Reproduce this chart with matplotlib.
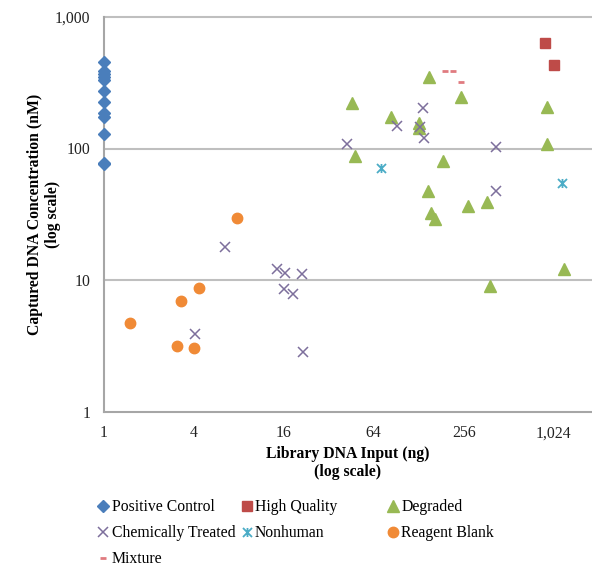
import numpy as np
import matplotlib
matplotlib.use("Agg")
import matplotlib.pyplot as plt
from matplotlib.path import Path
from matplotlib.ticker import FixedLocator, FixedFormatter, NullLocator

plt.rcParams["font.family"] = ["Liberation Serif", "DejaVu Serif"]

# ---- data (x = library input ng, y = captured nM)
pos_x = [1, 1, 1, 1, 1, 1, 1, 1, 1, 1, 1, 1]
pos_y = [455, 388, 369, 350, 332, 274, 226, 186, 174, 129, 78, 76]

hq_x = [902, 1037]
hq_y = [630, 431]

deg_x = [150, 46, 247, 923, 83, 129, 128, 923, 47.6, 185, 147, 154, 165, 274, 366, 385, 1203]
deg_y = [352, 221, 248, 206, 175, 157, 142, 108, 87.7, 80, 47.8, 32.5, 28.9, 36.5, 39, 9.0, 12.1]

chem_x = [136, 92, 130, 139, 42.5, 422, 422, 6.5, 14.3, 4.05, 16.4, 21.2, 16, 18.4, 21.4]
chem_y = [204, 149, 146, 121, 108, 103, 47.5, 17.7, 12.1, 3.89, 11.4, 11.1, 8.5, 7.8, 2.82]

nonh_x = [72, 1175]
nonh_y = [71.5, 55]

blank_x = [7.8, 4.35, 3.3, 1.5, 3.08, 4.0]
blank_y = [29.5, 8.74, 6.92, 4.73, 3.15, 3.04]

mix_x = [193, 217, 245]
mix_y = [391, 391, 322]

x_ticks = [1, 4, 16, 64, 256, 1024]
x_labels = ["1", "4", "16", "64", "256", "1,024"]
y_ticks = [1, 10, 100, 1000]
y_labels = ["1", "10", "100", "1,000"]

# Excel style "star" marker: an x with a vertical bar
star = Path([(-1, -1), (1, 1), (-1, 1), (1, -1), (0, -1), (0, 1)],
            [Path.MOVETO, Path.LINETO] * 3)

FS = 11.3
W, H = 592, 568
fig = plt.figure(figsize=(W / 100, H / 100), dpi=100)
ax = fig.add_axes([104 / W, 1 - 411.5 / H, (W - 104) / W, (411.5 - 17) / H])

ax.set_xscale("log", base=2)
ax.set_yscale("log")
ax.set_xlim(1, 2 ** ((W - 103.5) / 45))
ax.set_ylim(1, 1000)

for yv in [10, 100, 1000]:
    ax.axhline(yv, color="#bfbfbf", lw=1.5, zorder=0, clip_on=False)

kw = dict(ls="none", clip_on=False, zorder=3)
series = []
series.append(ax.plot(pos_x, pos_y, marker="D", ms=6, color="#4a7ebb", label="Positive Control", **kw)[0])
series.append(ax.plot(hq_x, hq_y, marker="s", ms=7.5, color="#be4b48", label="High Quality", **kw)[0])
series.append(ax.plot(deg_x, deg_y, marker="^", ms=8, color="#98b954", label="Degraded", **kw)[0])
series.append(ax.plot(chem_x, chem_y, marker="x", ms=7, mew=1.1, color="#7d6f9c", label="Chemically Treated", **kw)[0])
series.append(ax.plot(nonh_x, nonh_y, marker=star, ms=6.5, mew=1.3, mfc="none", color="#4bacc6", label="Nonhuman", **kw)[0])
series.append(ax.plot(blank_x, blank_y, marker="o", ms=7.5, color="#f08a36", label="Reagent Blank", **kw)[0])
series.append(ax.plot(mix_x, mix_y, marker="_", ms=4.5, mew=2, color="#e07b80", label="Mixture", **kw)[0])

ax.xaxis.set_major_locator(FixedLocator(x_ticks))
ax.xaxis.set_major_formatter(FixedFormatter(x_labels))
ax.xaxis.set_minor_locator(NullLocator())
ax.yaxis.set_major_locator(FixedLocator(y_ticks))
ax.yaxis.set_major_formatter(FixedFormatter(y_labels))
ax.yaxis.set_minor_locator(NullLocator())
ax.tick_params(axis="x", length=0, pad=10, labelsize=FS, colors="#222222")
ax.tick_params(axis="y", length=0, pad=10, labelsize=FS, colors="#222222")

for s in ["top", "right"]:
    ax.spines[s].set_visible(False)
for s in ["left", "bottom"]:
    ax.spines[s].set_color("#a6a6a6")
    ax.spines[s].set_linewidth(1.5)

# axis titles placed in figure pixels like the reference
fig.text(348 / W, 1 - 463 / H, "Library DNA Input (ng)\n(log scale)", fontsize=FS,
         fontweight="bold", linespacing=1.2, ha="center", va="center")
fig.text(44 / W, 1 - 214 / H, "Captured DNA Concentration (nM)\n(log scale)",
         fontsize=FS, fontweight="bold", linespacing=1.2, rotation=90,
         ha="center", va="center")

# legend: three separate columns like the Excel layout
cols = [([0, 3, 6], 103.3), ([1, 4], 246.7), ([2, 5], 393)]
for idx, xm in cols:
    fig.legend([series[i] for i in idx], [series[i].get_label() for i in idx],
               loc="upper left", bbox_to_anchor=((xm - 5.5) / W, 1 - 499 / H),
               frameon=False, fontsize=FS, handlelength=0.7,
               handletextpad=0.18, labelspacing=0.64, borderpad=0,
               borderaxespad=0, numpoints=1)

fig.savefig("out.png", dpi=100)
